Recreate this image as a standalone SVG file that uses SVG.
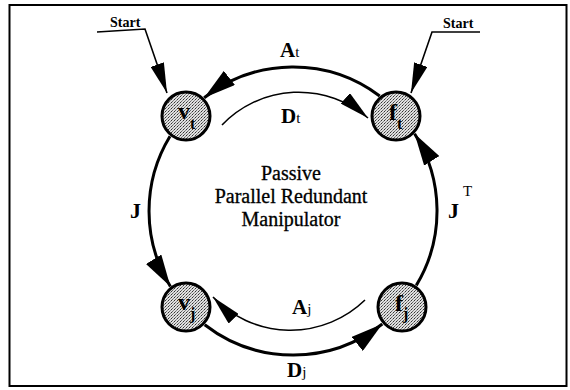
<svg xmlns="http://www.w3.org/2000/svg" width="570" height="390" viewBox="0 0 570 390">
<style>
.bg{fill:#fff}
.frame{fill:none;stroke:#000;stroke-width:2}
.arc{fill:none;stroke:#000;stroke-width:3}
.thin{fill:none;stroke:#000;stroke-width:1.6}
.node{fill:url(#stip);stroke:#000;stroke-width:3}
text{font-family:"Liberation Serif","Times New Roman",serif;fill:#000}
.b{font-weight:bold}
.sm{font-size:15px}
.nl{font-weight:bold;font-size:24px}
.ns{font-weight:bold;font-size:16px}
.ct{font-size:20px;text-anchor:middle;stroke:#000;stroke-width:0.3}
.st{font-size:14px;font-weight:bold}
</style>
<defs>
<pattern id="stip" width="3" height="3" patternUnits="userSpaceOnUse">
<rect width="3" height="3" fill="#e0e0e0"/>
<rect x="0" y="0" width="1" height="1" fill="#333"/>
<rect x="1" y="2" width="1" height="1" fill="#666"/>
<rect x="2" y="1" width="1" height="1" fill="#888"/>
</pattern>
<marker id="big" viewBox="0 0 32 18" refX="32" refY="9" markerWidth="32" markerHeight="18" markerUnits="userSpaceOnUse" orient="auto">
<path d="M0,0 L32,9 L0,18 z" fill="#000"/>
</marker>
<marker id="sml" viewBox="0 0 30 14" refX="30" refY="7" markerWidth="30" markerHeight="14" markerUnits="userSpaceOnUse" orient="auto">
<path d="M0,0 L30,7 L0,14 z" fill="#000"/>
</marker>
</defs>
<rect class="bg" width="570" height="390"/>
<rect class="frame" x="9.5" y="5" width="557" height="381"/>

<g id="connectors">
<path id="e-At" class="arc" d="M379.7,96 A144,144 0 0 0 204.2,97.7" marker-end="url(#big)"/>
<path id="e-J" class="arc" d="M170,136.2 A144,144 0 0 0 170.4,286.5" marker-end="url(#big)"/>
<path id="e-Dj" class="arc" d="M204.7,324.8 A144,144 0 0 0 382.3,324" marker-end="url(#big)"/>
<path id="e-JT" class="arc" d="M416.3,285.4 A144,144 0 0 0 414.6,133.8" marker-end="url(#big)"/>
<path id="e-Dt" class="thin" d="M222,125 A106,106 0 0 1 368,118" marker-end="url(#sml)"/>
<path id="e-Aj" class="thin" d="M365,300 A107,107 0 0 1 213,297" marker-end="url(#sml)"/>
<path id="start-l" class="thin" d="M97,32 L145,29 L167,93" marker-end="url(#sml)"/>
<path id="start-r" class="thin" d="M480,32 L432,32 L411,93" marker-end="url(#sml)"/>
</g>

<g id="labels">
<text class="st" x="110" y="27">Start</text>
<text class="st" x="443" y="28">Start</text>
<text x="280" y="57"><tspan class="b" font-size="21">A</tspan><tspan class="sm">t</tspan></text>
<text x="281" y="123"><tspan class="b" font-size="21">D</tspan><tspan class="sm">t</tspan></text>
<text x="292" y="314"><tspan class="b" font-size="21">A</tspan><tspan class="sm">j</tspan></text>
<text x="287" y="377"><tspan class="b" font-size="21">D</tspan><tspan class="sm">j</tspan></text>
<text class="b" x="130" y="218" font-size="22">J</text>
<text x="448" y="218"><tspan class="b" font-size="22">J</tspan><tspan font-size="15" dx="4" dy="-22">T</tspan></text>
<text class="ct" x="291" y="180">Passive</text>
<text class="ct" x="291" y="203">Parallel Redundant</text>
<text class="ct" x="291" y="226">Manipulator</text>
</g>

<g id="vt">
<circle class="node" cx="186" cy="116" r="24"/>
<text x="178" y="119"><tspan class="nl">v</tspan><tspan class="ns" dy="10">t</tspan></text>
</g>
<g id="ft">
<circle class="node" cx="396" cy="116" r="24"/>
<text x="389" y="120"><tspan class="nl">f</tspan><tspan class="ns" dy="9">t</tspan></text>
</g>
<g id="vj">
<circle class="node" cx="186" cy="307" r="24"/>
<text x="178" y="310"><tspan class="nl">v</tspan><tspan class="ns" dy="9">j</tspan></text>
</g>
<g id="fj">
<circle class="node" cx="402" cy="307" r="24"/>
<text x="395" y="311"><tspan class="nl">f</tspan><tspan class="ns" dy="8">j</tspan></text>
</g>
</svg>
